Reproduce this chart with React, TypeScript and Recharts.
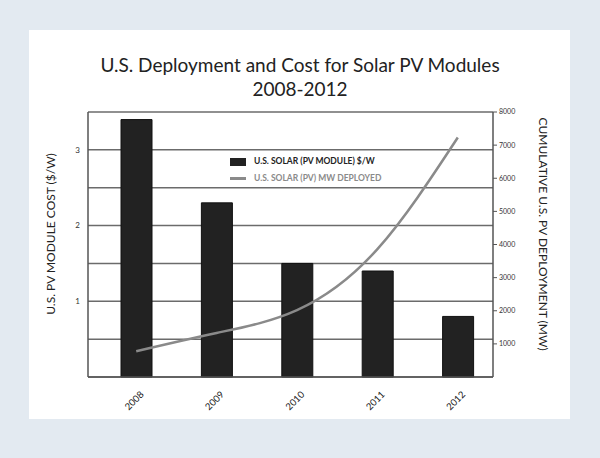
import React from 'react';
import { ComposedChart, Bar, Line, XAxis, YAxis, CartesianGrid, Legend } from 'recharts';

const years = ['2008', '2009', '2010', '2011', '2012'];
const moduleCost = [3.4, 2.3, 1.5, 1.4, 0.8]; // $/W
const mwDeployed = [780, 1330, 2020, 3860, 7230]; // cumulative MW
const costTicks = [0, 0.5, 1, 1.5, 2, 2.5, 3, 3.5];
const mwTicks = [1000, 2000, 3000, 4000, 5000, 6000, 7000, 8000];

const data = years.map((year, i) => ({ year, cost: moduleCost[i], mw: mwDeployed[i] }));

const FONT = 'Lato, "Open Sans", sans-serif';

const YearTick = (props: any) => {
  const { x, y, payload } = props;
  const ax = x + 3;
  const ay = y + 5;
  return (
    <text x={ax} y={ay} transform={`rotate(-45, ${ax}, ${ay})`} textAnchor="end" dominantBaseline="hanging"
      fontSize={9.5} fill="#222" fontFamily={FONT}>
      {payload.value}
    </text>
  );
};

const LegendBox = () => (
  <div style={{ fontFamily: FONT, fontSize: 8.5, lineHeight: '17px', textAlign: 'left' }}>
    <div style={{ display: 'flex', alignItems: 'center', color: '#222', fontWeight: 700 }}>
      <span style={{ display: 'inline-block', width: 16, height: 8, background: '#222', marginRight: 8 }} />
      U.S. SOLAR (PV MODULE) $/W
    </div>
    <div style={{ display: 'flex', alignItems: 'center', color: '#8a8a8a', fontWeight: 700 }}>
      <span style={{ display: 'inline-block', width: 16, height: 3, background: '#8a8a8a', marginRight: 8 }} />
      U.S. SOLAR (PV) MW DEPLOYED
    </div>
  </div>
);

export default function App() {
  return (
    <div style={{ position: 'absolute', left: 0, top: 0, width: 600, height: 458, background: '#e3eaf1', fontFamily: FONT }}>
      <div style={{ position: 'absolute', left: 29, top: 30, width: 541, height: 389, background: '#fff' }} />
      <div style={{ position: 'absolute', left: 0, top: 53, width: 600, textAlign: 'center', fontSize: 19, lineHeight: '24px', color: '#222' }}>
        U.S. Deployment and Cost for Solar PV Modules<br />2008-2012
      </div>
      <div style={{ position: 'absolute', left: 50, top: 234, transform: 'translate(-50%, -50%) rotate(-90deg)', whiteSpace: 'nowrap', fontSize: 12, color: '#222' }}>
        U.S. PV MODULE COST ($/W)
      </div>
      <div style={{ position: 'absolute', left: 543, top: 234, transform: 'translate(-50%, -50%) rotate(90deg)', whiteSpace: 'nowrap', fontSize: 12, color: '#222' }}>
        CUMULATIVE U.S. PV DEPLOYMENT (MW)
      </div>
      <div style={{ position: 'absolute', left: 0, top: 0 }}>
        <ComposedChart width={600} height={458} data={data} margin={{ top: 112, right: 67, bottom: 51, left: 58 }}>
          <CartesianGrid vertical={false} stroke="#6b6b6b" strokeWidth={1.5} />
          <XAxis dataKey="year" padding={{ left: 8, right: -5 }} tick={<YearTick />} tickLine={false}
            axisLine={{ stroke: '#555', strokeWidth: 1.5 }} height={30} interval={0} />
          <YAxis domain={[0, 3.5]} ticks={costTicks} width={30} tickLine={false}
            axisLine={{ stroke: '#555', strokeWidth: 1.5 }}
            tickFormatter={(v: number) => (Number.isInteger(v) && v > 0 ? String(v) : '')}
            tick={{ fontSize: 8, fill: '#333', fontFamily: FONT }} />
          <YAxis yAxisId="right" orientation="right" domain={[0, 8000]} ticks={mwTicks} width={40}
            tickSize={4} tickLine={{ stroke: '#555' }} axisLine={{ stroke: '#555', strokeWidth: 1.5 }}
            tick={{ fontSize: 7, fill: '#333', fontFamily: FONT }} />
          <Legend content={<LegendBox />} layout="horizontal" verticalAlign="middle" align="center"
            wrapperStyle={{ left: 230, top: 153, width: 200 }} />
          <Bar dataKey="cost" fill="#222" stroke="#111" barSize={31} isAnimationActive={false} />
          <Line yAxisId="right" type="natural" dataKey="mw" stroke="#8a8a8a" strokeWidth={2.5}
            dot={false} isAnimationActive={false} />
        </ComposedChart>
      </div>
    </div>
  );
}
